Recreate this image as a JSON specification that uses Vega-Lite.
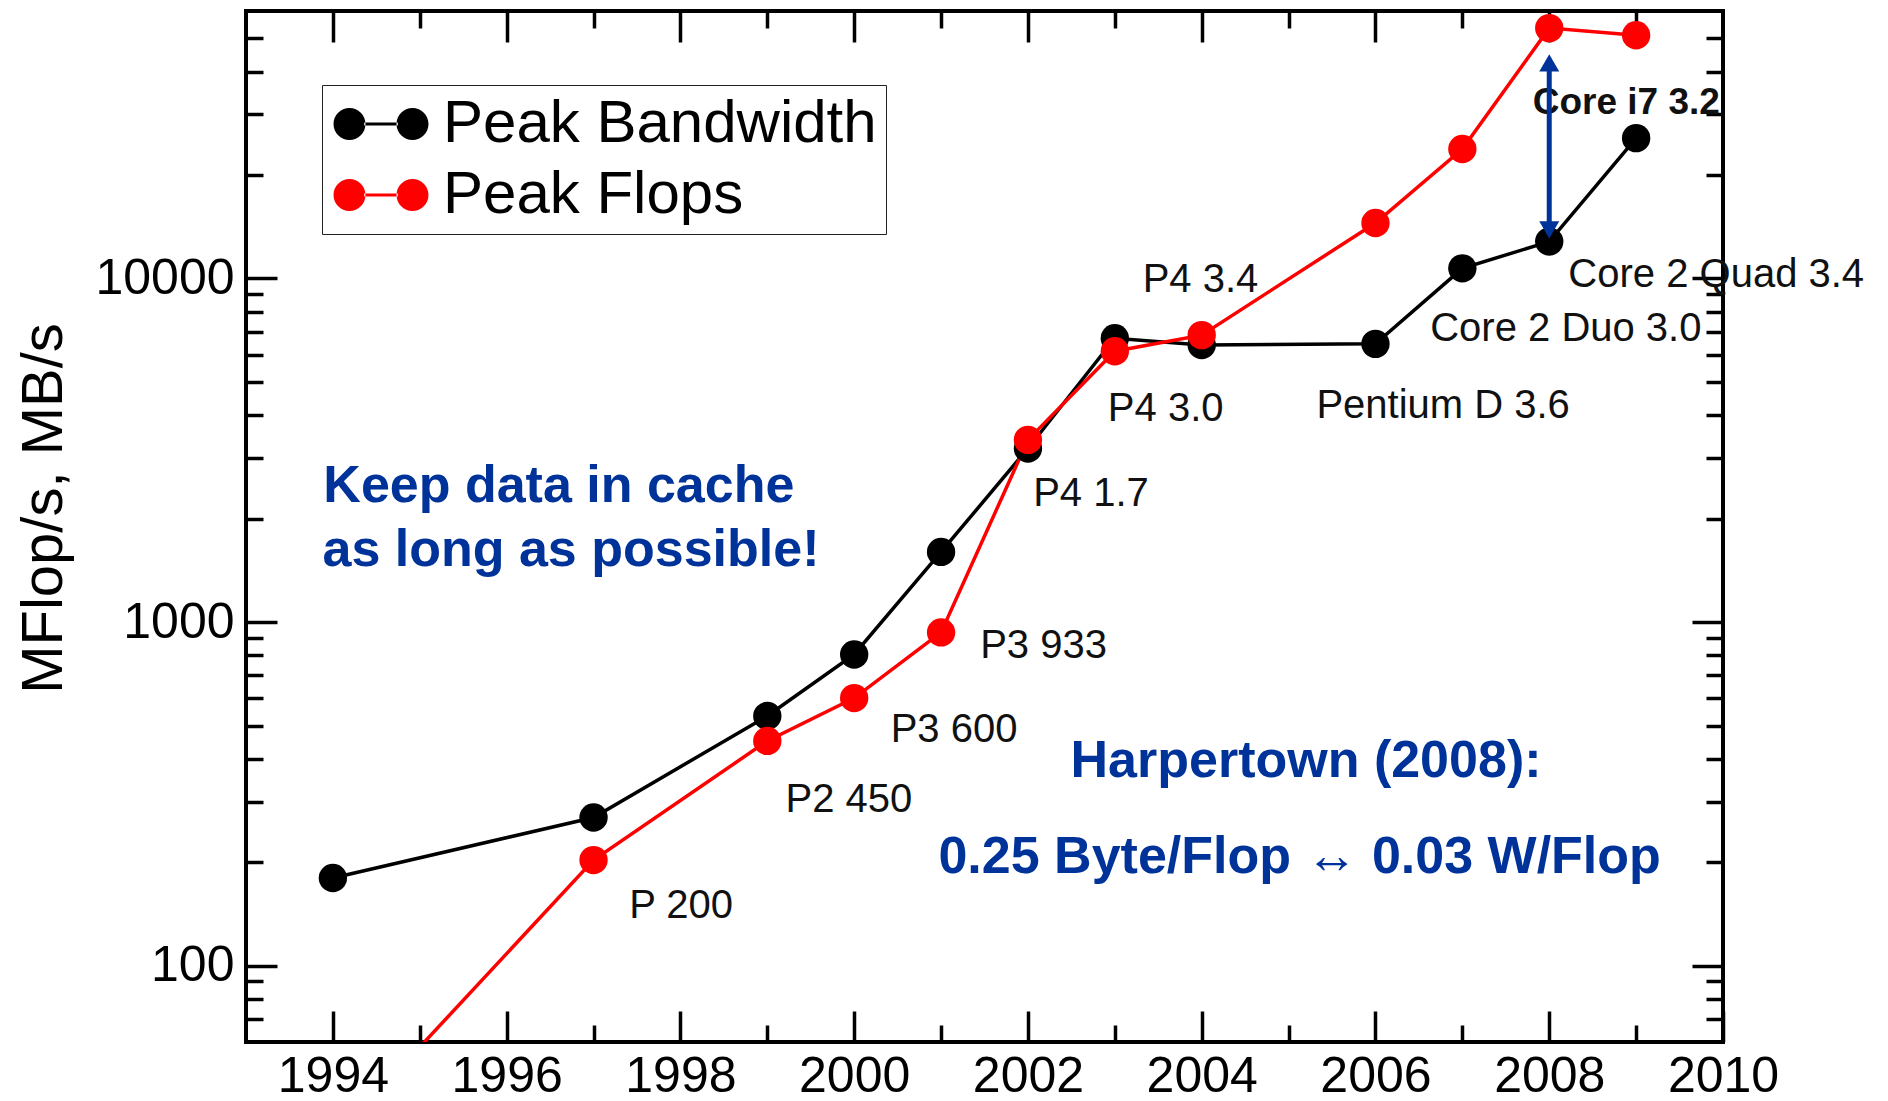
{
  "$schema": "https://vega.github.io/schema/vega-lite/v6.json",
  "autosize": "none",
  "padding": {"left": 246, "top": 11, "right": 165, "bottom": 59},
  "width": 1477,
  "height": 1031,
  "background": "white",
  "config": {
    "view": {"stroke": "black", "strokeWidth": 4},
    "font": "Liberation Sans",
    "text": {"font": "Liberation Sans"}
  },
  "datasets": {
    "series": [
      {"year": 1994, "value": 180, "series": "Peak Bandwidth"},
      {"year": 1997, "value": 270, "series": "Peak Bandwidth"},
      {"year": 1999, "value": 533, "series": "Peak Bandwidth"},
      {"year": 2000, "value": 805, "series": "Peak Bandwidth"},
      {"year": 2001, "value": 1600, "series": "Peak Bandwidth"},
      {"year": 2002, "value": 3200, "series": "Peak Bandwidth"},
      {"year": 2003, "value": 6700, "series": "Peak Bandwidth"},
      {"year": 2004, "value": 6400, "series": "Peak Bandwidth"},
      {"year": 2006, "value": 6450, "series": "Peak Bandwidth"},
      {"year": 2007, "value": 10700, "series": "Peak Bandwidth"},
      {"year": 2008, "value": 12800, "series": "Peak Bandwidth"},
      {"year": 2009, "value": 25600, "series": "Peak Bandwidth"},
      {"year": 1994, "value": 31, "series": "Peak Flops"},
      {"year": 1997, "value": 203, "series": "Peak Flops"},
      {"year": 1999, "value": 451, "series": "Peak Flops"},
      {"year": 2000, "value": 601, "series": "Peak Flops"},
      {"year": 2001, "value": 933, "series": "Peak Flops"},
      {"year": 2002, "value": 3390, "series": "Peak Flops"},
      {"year": 2003, "value": 6140, "series": "Peak Flops"},
      {"year": 2004, "value": 6840, "series": "Peak Flops"},
      {"year": 2006, "value": 14500, "series": "Peak Flops"},
      {"year": 2007, "value": 23800, "series": "Peak Flops"},
      {"year": 2008, "value": 53500, "series": "Peak Flops"},
      {"year": 2009, "value": 51000, "series": "Peak Flops"}
    ],
    "labels": [
      {"x": 1997.41, "y": 138, "label": "P 200"},
      {"x": 1999.21, "y": 281, "label": "P2 450"},
      {"x": 2000.42, "y": 449, "label": "P3 600"},
      {"x": 2001.45, "y": 787, "label": "P3 933"},
      {"x": 2002.06, "y": 2170, "label": "P4 1.7"},
      {"x": 2002.92, "y": 3846, "label": "P4 3.0"},
      {"x": 2003.32, "y": 9120, "label": "P4 3.4"},
      {"x": 2005.32, "y": 3936, "label": "Pentium D 3.6"},
      {"x": 2006.63, "y": 6590, "label": "Core 2 Duo 3.0"},
      {"x": 2008.22, "y": 9428, "label": "Core 2 Quad 3.4"}
    ],
    "boldlabels": [
      {"x": 2007.81, "y": 30000, "label": "Core i7 3.2"}
    ],
    "notes": [
      {"x": 1993.89, "y": 2235, "label": "Keep data in cache"},
      {"x": 1993.88, "y": 1457, "label": "as long as possible!"},
      {"x": 2002.49, "y": 355, "label": "Harpertown (2008):"},
      {"x": 2000.97, "y": 186, "label": "0.25 Byte/Flop ↔ 0.03 W/Flop"}
    ],
    "arrow": [
      {"x": 2008, "top": 42360, "bottom": 13850}
    ]
  },
  "resolve": {"axis": {"x": "independent", "y": "independent"}},
  "layer": [
    {
      "data": {"name": "series"},
      "transform": [{"filter": "datum.series === 'Peak Bandwidth'"}],
      "mark": {"type": "line", "strokeWidth": 3.5, "clip": true, "color": "#000000"},
      "encoding": {
        "x": {
          "field": "year", "type": "quantitative",
          "scale": {"domain": [1993, 2010], "nice": false, "zero": false},
          "axis": {
            "orient": "bottom",
            "values": [1994, 1995, 1996, 1997, 1998, 1999, 2000, 2001, 2002, 2003, 2004, 2005, 2006, 2007, 2008, 2009, 2010],
            "labelExpr": "datum.value % 2 === 0 ? '' + datum.value : ''",
            "tickSize": {"condition": {"test": "datum.value % 2 === 0", "value": -31}, "value": -17},
            "tickWidth": 3.5, "tickColor": "black",
            "domain": false, "grid": false,
            "labelFont": "Liberation Sans", "labelFontSize": 50, "labelColor": "black",
            "labelPadding": 40, "labelOverlap": false, "labelFlush": false,
            "title": null
          }
        },
        "y": {
          "field": "value", "type": "quantitative",
          "scale": {"type": "log", "domain": [60, 60000], "nice": false},
          "axis": {
            "orient": "left",
            "values": [70, 80, 90, 100, 200, 300, 400, 500, 600, 700, 800, 900, 1000, 2000, 3000, 4000, 5000, 6000, 7000, 8000, 9000, 10000, 20000, 30000, 40000, 50000],
            "labelExpr": "(datum.value === 100 || datum.value === 1000 || datum.value === 10000) ? '' + datum.value : ''",
            "tickSize": {"condition": {"test": "datum.value === 100 || datum.value === 1000 || datum.value === 10000", "value": -31}, "value": -17},
            "tickWidth": 3.5, "tickColor": "black",
            "domain": false, "grid": false,
            "labelFont": "Liberation Sans", "labelFontSize": 50, "labelColor": "black",
            "labelPadding": 43, "labelOverlap": false, "labelFlush": false,
            "title": "MFlop/s, MB/s",
            "titleFont": "Liberation Sans", "titleFontSize": 58, "titleFontWeight": "normal", "titleColor": "black",
            "titleAngle": -90, "titleAlign": "center", "titleBaseline": "alphabetic",
            "titleX": -185, "titleY": 497
          }
        }
      }
    },
    {
      "data": {"name": "series"},
      "transform": [{"filter": "datum.series === 'Peak Flops'"}],
      "mark": {"type": "line", "strokeWidth": 3.5, "clip": true, "color": "#ff0000"},
      "encoding": {
        "x": {"field": "year", "type": "quantitative", "axis": null},
        "y": {"field": "value", "type": "quantitative", "axis": null}
      }
    },
    {
      "data": {"name": "series"},
      "mark": {"type": "point", "filled": true, "size": 804, "opacity": 1, "clip": true},
      "encoding": {
        "x": {
          "field": "year", "type": "quantitative",
          "axis": {
            "orient": "top",
            "values": [1994, 1995, 1996, 1997, 1998, 1999, 2000, 2001, 2002, 2003, 2004, 2005, 2006, 2007, 2008, 2009],
            "labels": false,
            "tickSize": {"condition": {"test": "datum.value % 2 === 0", "value": -31}, "value": -17},
            "tickWidth": 3.5, "tickColor": "black",
            "domain": false, "grid": false, "title": null
          }
        },
        "y": {
          "field": "value", "type": "quantitative",
          "axis": {
            "orient": "right",
            "values": [70, 80, 90, 100, 200, 300, 400, 500, 600, 700, 800, 900, 1000, 2000, 3000, 4000, 5000, 6000, 7000, 8000, 9000, 10000, 20000, 30000, 40000, 50000],
            "labels": false,
            "tickSize": {"condition": {"test": "datum.value === 100 || datum.value === 1000 || datum.value === 10000", "value": -31}, "value": -17},
            "tickWidth": 3.5, "tickColor": "black",
            "domain": false, "grid": false, "title": null
          }
        },
        "color": {
          "field": "series", "type": "nominal",
          "scale": {"domain": ["Peak Bandwidth", "Peak Flops"], "range": ["#000000", "#ff0000"]},
          "legend": {
            "orient": "none", "legendX": 76, "legendY": 74,
            "title": null,
            "symbolType": "M -1.696 0 A 0.571 0.571 0 1 0 -0.554 0 A 0.571 0.571 0 1 0 -1.696 0 Z M -0.6 -0.054 L 0.6 -0.054 L 0.6 0.054 L -0.6 0.054 Z M 0.554 0 A 0.571 0.571 0 1 0 1.696 0 A 0.571 0.571 0 1 0 0.554 0 Z",
            "symbolSize": 3136, "symbolStrokeWidth": 0, "symbolOpacity": 1,
            "symbolOffset": 20, "labelOffset": 32,
            "labelFont": "Liberation Sans", "labelFontSize": 60, "labelColor": "black", "labelLimit": 1000,
            "padding": 9, "rowPadding": 11,
            "strokeColor": "#222222", "fillColor": "white"
          }
        }
      }
    },
    {
      "data": {"name": "labels"},
      "mark": {"type": "text", "align": "left", "baseline": "alphabetic", "font": "Liberation Sans", "fontSize": 40, "color": "#111111"},
      "encoding": {
        "x": {"field": "x", "type": "quantitative", "axis": null},
        "y": {"field": "y", "type": "quantitative", "axis": null},
        "text": {"field": "label", "type": "nominal"}
      }
    },
    {
      "data": {"name": "boldlabels"},
      "mark": {"type": "text", "align": "left", "baseline": "alphabetic", "font": "Liberation Sans", "fontSize": 37, "fontWeight": "bold", "color": "#111111"},
      "encoding": {
        "x": {"field": "x", "type": "quantitative", "axis": null},
        "y": {"field": "y", "type": "quantitative", "axis": null},
        "text": {"field": "label", "type": "nominal"}
      }
    },
    {
      "data": {"name": "notes"},
      "mark": {"type": "text", "align": "left", "baseline": "alphabetic", "font": "Liberation Sans", "fontSize": 52, "fontWeight": "bold", "color": "#003399"},
      "encoding": {
        "x": {"field": "x", "type": "quantitative", "axis": null},
        "y": {"field": "y", "type": "quantitative", "axis": null},
        "text": {"field": "label", "type": "nominal"}
      }
    },
    {
      "data": {"name": "arrow"},
      "mark": {"type": "rule", "strokeWidth": 5, "color": "#003399"},
      "encoding": {
        "x": {"field": "x", "type": "quantitative", "axis": null},
        "y": {"field": "top", "type": "quantitative", "axis": null},
        "y2": {"field": "bottom"}
      }
    },
    {
      "data": {"name": "arrow"},
      "mark": {"type": "point", "shape": "triangle-up", "filled": true, "size": 400, "opacity": 1, "color": "#003399"},
      "encoding": {
        "x": {"field": "x", "type": "quantitative", "axis": null},
        "y": {"field": "top", "type": "quantitative", "axis": null}
      }
    },
    {
      "data": {"name": "arrow"},
      "mark": {"type": "point", "shape": "triangle-down", "filled": true, "size": 400, "opacity": 1, "color": "#003399"},
      "encoding": {
        "x": {"field": "x", "type": "quantitative", "axis": null},
        "y": {"field": "bottom", "type": "quantitative", "axis": null}
      }
    }
  ]
}
